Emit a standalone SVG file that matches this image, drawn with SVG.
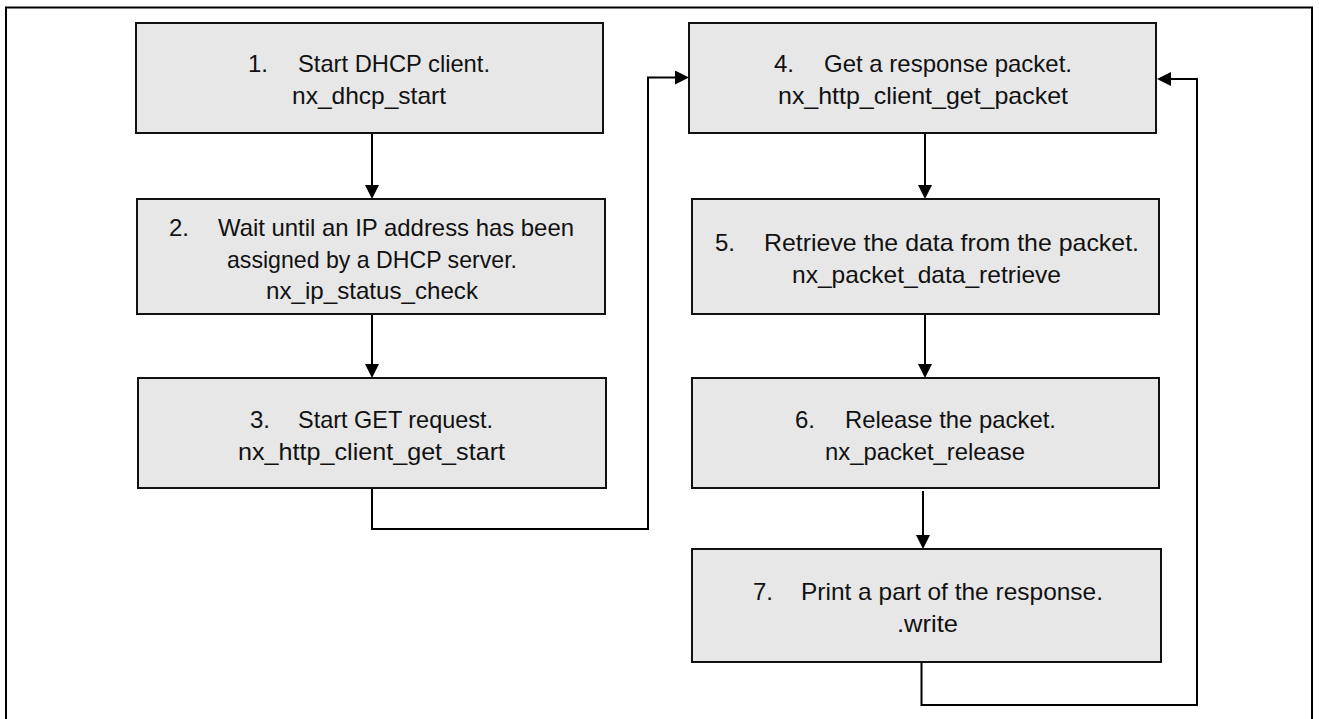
<svg xmlns="http://www.w3.org/2000/svg" width="1319" height="719" viewBox="0 0 1319 719">
<style>
.frame{fill:none;stroke:#000;stroke-width:2}
.box{fill:#e7e7e7;stroke:#111;stroke-width:2}
.t{font-family:"Liberation Sans",Arial,sans-serif;font-size:24px;fill:#111}
.c{fill:none;stroke:#000;stroke-width:2}
</style>
<defs>
<marker id="ah" viewBox="0 0 14 14" markerUnits="userSpaceOnUse" markerWidth="14" markerHeight="14" refX="10" refY="7" orient="auto">
<path d="M0,0 L14,7 L0,14 z" fill="#000"/>
</marker>
</defs>
<rect width="1319" height="719" fill="#fff"/>
<path class="frame" d="M6,719 V7.5 H1312 V719"/>
<g id="connectors">
<path class="c" d="M372,134 V195" marker-end="url(#ah)"/>
<path class="c" d="M372,314 V374" marker-end="url(#ah)"/>
<path class="c" d="M372,488 V529 H648 V77.5 H685" marker-end="url(#ah)"/>
<path class="c" d="M925,134 V195" marker-end="url(#ah)"/>
<path class="c" d="M925,314 V374" marker-end="url(#ah)"/>
<path class="c" d="M923,491 V545" marker-end="url(#ah)"/>
<path class="c" d="M921.5,662 V705 H1197 V79 H1161" marker-end="url(#ah)"/>
</g>
<g id="n1">
<rect class="box" x="136" y="23" width="467" height="110"/>
<text class="t" x="248" y="72">1.</text>
<text class="t" x="298" y="72" textLength="192" lengthAdjust="spacingAndGlyphs">Start DHCP client.</text>
<text class="t" x="292" y="104" textLength="154" lengthAdjust="spacingAndGlyphs">nx_dhcp_start</text>
</g>
<g id="n2">
<rect class="box" x="137" y="199" width="468" height="115"/>
<text class="t" x="169" y="236">2.</text>
<text class="t" x="218" y="236" textLength="356" lengthAdjust="spacingAndGlyphs">Wait until an IP address has been</text>
<text class="t" x="227" y="268" textLength="290" lengthAdjust="spacingAndGlyphs">assigned by a DHCP server.</text>
<text class="t" x="266" y="299" textLength="212" lengthAdjust="spacingAndGlyphs">nx_ip_status_check</text>
</g>
<g id="n3">
<rect class="box" x="138" y="378" width="468" height="110"/>
<text class="t" x="250" y="428">3.</text>
<text class="t" x="298" y="428" textLength="195" lengthAdjust="spacingAndGlyphs">Start GET request.</text>
<text class="t" x="238" y="460" textLength="267" lengthAdjust="spacingAndGlyphs">nx_http_client_get_start</text>
</g>
<g id="n4">
<rect class="box" x="689" y="23" width="467" height="110"/>
<text class="t" x="774" y="72">4.</text>
<text class="t" x="824" y="72" textLength="248" lengthAdjust="spacingAndGlyphs">Get a response packet.</text>
<text class="t" x="778" y="104" textLength="290" lengthAdjust="spacingAndGlyphs">nx_http_client_get_packet</text>
</g>
<g id="n5">
<rect class="box" x="692" y="199" width="467" height="115"/>
<text class="t" x="715" y="251">5.</text>
<text class="t" x="764" y="251" textLength="375" lengthAdjust="spacingAndGlyphs">Retrieve the data from the packet.</text>
<text class="t" x="792" y="283" textLength="269" lengthAdjust="spacingAndGlyphs">nx_packet_data_retrieve</text>
</g>
<g id="n6">
<rect class="box" x="692" y="378" width="467" height="110"/>
<text class="t" x="795" y="428">6.</text>
<text class="t" x="845" y="428" textLength="211" lengthAdjust="spacingAndGlyphs">Release the packet.</text>
<text class="t" x="825" y="460" textLength="200" lengthAdjust="spacingAndGlyphs">nx_packet_release</text>
</g>
<g id="n7">
<rect class="box" x="692" y="549" width="469" height="113"/>
<text class="t" x="753" y="600">7.</text>
<text class="t" x="801" y="600" textLength="302" lengthAdjust="spacingAndGlyphs">Print a part of the response.</text>
<text class="t" x="897" y="632" textLength="61" lengthAdjust="spacingAndGlyphs">.write</text>
</g>
</svg>
